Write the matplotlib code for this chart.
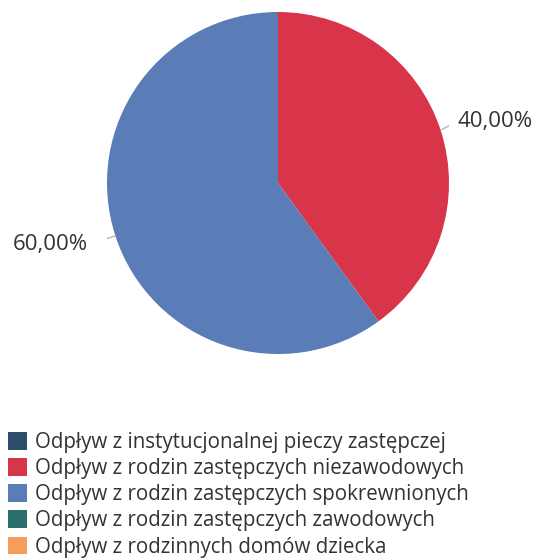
import matplotlib
matplotlib.use("Agg")
import numpy as np
from matplotlib import pyplot as plt
from matplotlib.patches import Patch

plt.rcParams['font.family'] = ['Open Sans', 'DejaVu Sans']

categories = [
    "Odpływ z instytucjonalnej pieczy zastępczej",
    "Odpływ z rodzin zastępczych niezawodowych",
    "Odpływ z rodzin zastępczych spokrewnionych",
    "Odpływ z rodzin zastępczych zawodowych",
    "Odpływ z rodzinnych domów dziecka",
]
values = [0, 40, 60, 0, 0]
colors = ["#2d4b6a", "#d8344a", "#5a7cb7", "#2a6e6e", "#f59e5b"]
pct_labels = ["0,00%", "40,00%", "60,00%", "0,00%", "0,00%"]

fig = plt.figure(figsize=(5.4, 5.58), dpi=100)
r_px = 171
ax = fig.add_axes([(278 - r_px) / 540, (558 - 183 - r_px) / 558,
                   2 * r_px / 540, 2 * r_px / 558])

idx = [i for i, v in enumerate(values) if v > 0]
wedges, _ = ax.pie([values[i] for i in idx], colors=[colors[i] for i in idx],
                   startangle=90, counterclock=False, radius=1)

for w, i in zip(wedges, idx):
    mid = np.deg2rad((w.theta1 + w.theta2) / 2)
    x, y = np.cos(mid), np.sin(mid)
    side = 1 if x > 0 else -1
    tx = 1.05 if side > 0 else -1.11
    ty = y + 0.05 * (1 if y > 0 else -1)
    ax.plot([x, x + (tx - x) * 0.97], [y, ty], color="#9fb3c8", lw=0.9)
    ax.text(tx, ty, pct_labels[i], ha="left" if side > 0 else "right",
            va="center", fontsize=16, color="#333333")

ax.set_xlim(-1, 1)
ax.set_ylim(-1, 1)
ax.set_aspect("equal")
ax.axis("off")

handles = [Patch(facecolor=c, edgecolor="none") for c in colors]
fig.legend(handles, categories, loc="upper left",
           bbox_to_anchor=(0.014, 1 - 432 / 558), frameon=False,
           fontsize=14.8, handlelength=0.95, handleheight=0.95,
           handletextpad=0.4, labelspacing=0.25, borderpad=0, borderaxespad=0,
           labelcolor="#333333")

fig.savefig("out.png", dpi=100)
